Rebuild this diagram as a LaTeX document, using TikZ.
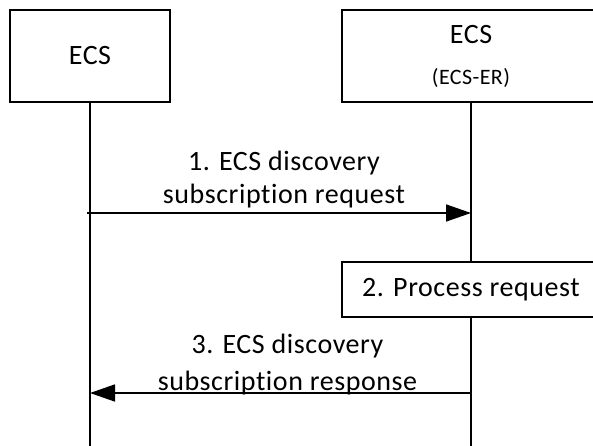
\documentclass[tikz,border=0pt]{standalone}
\usepackage{fontspec}
\setmainfont[Ligatures=NoCommon, LetterSpace=2]{Carlito}
\usetikzlibrary{arrows.meta}

\begin{document}
\begin{tikzpicture}[x=1pt, y=-1pt, line width=1.6pt,
    entity/.style={draw, rectangle, minimum height=92pt, inner sep=0pt, align=center, font=\fontsize{28}{34}\selectfont},
    msg/.style={-{Triangle[length=25pt, width=17pt]}},
    lbl/.style={align=center, inner sep=0pt, font=\fontsize{28}{33}\selectfont}]
    \clip (0,0) rectangle (593,446);

    % Entities
    \node[entity, minimum width=160pt] (ecs) at (90,56) {ECS};
    \node[entity, minimum width=258pt] (ecser) at (471,56) {ECS\\[7pt]{\fontsize{22}{26}\selectfont (ECS-ER)}};

    % Lifelines
    \coordinate (ecsEnd) at (90,446);
    \coordinate (ecserEnd) at (471,446);
    \draw (ecs) -- (ecsEnd);
    \draw (ecser) -- (ecserEnd);

    % 1. request
    \coordinate (reqFrom) at (87,213);
    \coordinate (reqTo) at (471,213);
    \draw[msg] (reqFrom) -- node[lbl, above=4pt, xshift=5pt] {1. ECS discovery\\subscription request} (reqTo);

    % 2. processing
    \node[entity, minimum width=258pt, minimum height=55pt, fill=white] (proc) at (471,289.5) {2. Process request};

    % 3. response
    \coordinate (rspFrom) at (471,393);
    \coordinate (rspTo) at (90,393);
    \draw[msg] (rspFrom) -- node[lbl, above=-3pt, xshift=7pt] {3. ECS discovery\\[4pt]subscription response} (rspTo);
\end{tikzpicture}
\end{document}
